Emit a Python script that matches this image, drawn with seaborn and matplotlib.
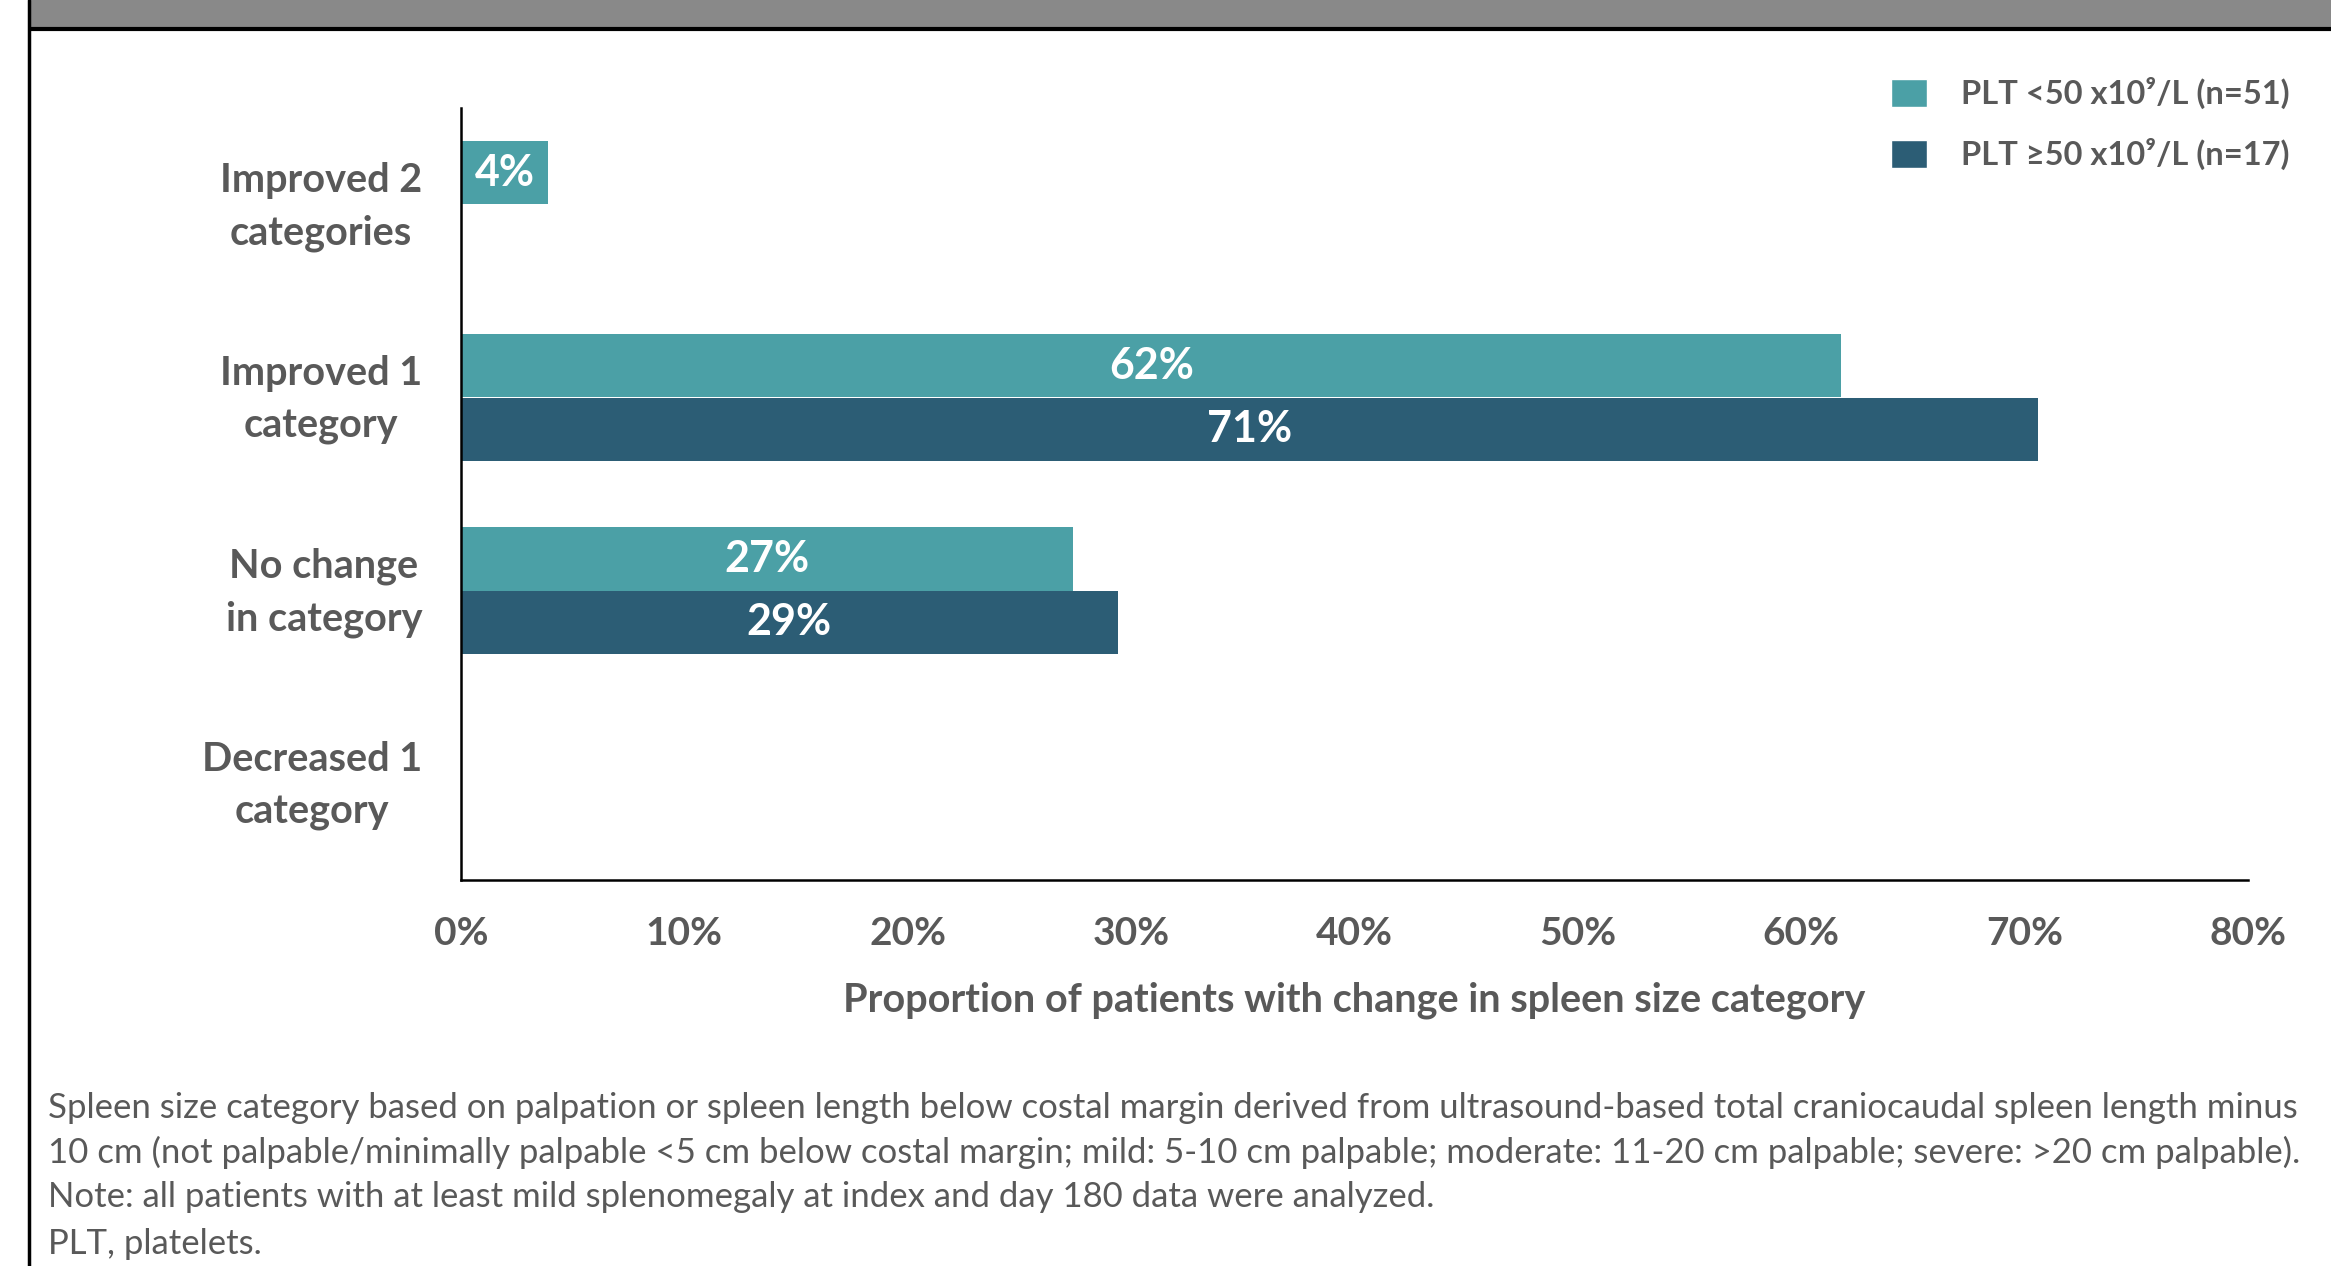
import matplotlib
matplotlib.use("Agg")
import matplotlib.pyplot as plt
import matplotlib.transforms as mtransforms
import seaborn as sns
import pandas as pd
from matplotlib.patches import Rectangle, Patch
from matplotlib.lines import Line2D

# ---------------- data ----------------
categories = ["Improved 2\ncategories", "Improved 1\ncategory",
              "No change\nin category", "Decreased 1\ncategory"]
groups = ["PLT <50 x10⁹/L (n=51)", "PLT ≥50 x10⁹/L (n=17)"]
plt_lt50 = [3.9, 61.8, 27.4, 0.0]
plt_ge50 = [0.0, 70.6, 29.4, 0.0]
x_ticks = [0, 10, 20, 30, 40, 50, 60, 70, 80]
x_label = "Proportion of patients with change in spleen size category"
note_lines = [
    "Spleen size category based on palpation or spleen length below costal margin derived from ultrasound-based total craniocaudal spleen length minus",
    "10 cm (not palpable/minimally palpable <5 cm below costal margin; mild: 5-10 cm palpable; moderate: 11-20 cm palpable; severe: >20 cm palpable).",
    "Note: all patients with at least mild splenomegaly at index and day 180 data were analyzed.",
]
abbrev = "PLT, platelets."

teal = "#4BA0A6"
dark = "#2C5D75"
gray_txt = "#595959"

df = pd.DataFrame({
    "Category": categories * 2,
    "Group": [groups[0]] * len(categories) + [groups[1]] * len(categories),
    "Value": plt_lt50 + plt_ge50,
})

sns.set_theme(style="white")
plt.rcParams["font.family"] = ["Lato", "DejaVu Sans"]

W, H = 2331, 1266
fig = plt.figure(figsize=(W / 100, H / 100), dpi=100)
fig.patch.set_facecolor("white")

# header band and left border
fig.patches.append(Rectangle((30 / W, 1 - 28 / H), 1, 28 / H, transform=fig.transFigure,
                             facecolor="#898989", edgecolor="none", zorder=0))
fig.add_artist(Line2D([30 / W, 1], [1 - 29 / H, 1 - 29 / H], transform=fig.transFigure,
                      color="black", lw=3))
fig.add_artist(Line2D([29 / W, 29 / W], [0, 1], transform=fig.transFigure,
                      color="black", lw=2.5))

ax = fig.add_axes([461 / W, 1 - 880 / H, (2248 - 461) / W, (880 - 108) / H])
sns.barplot(data=df, y="Category", x="Value", hue="Group", order=categories,
            hue_order=groups, palette=[teal, dark], width=0.66, saturation=1,
            orient="h", linewidth=0, legend=False, ax=ax)

for cont, vals in zip(ax.containers, [plt_lt50, plt_ge50]):
    labels = [f"{round(v)}%" if v > 0 else "" for v in vals]
    ax.bar_label(cont, labels=labels, label_type="center", color="white",
                 fontsize=31, fontweight="bold")

ax.set_xlim(0, 80)
ax.set_ylim(len(categories) - 0.5, -0.5)
ax.set_xticks(x_ticks)
ax.set_xticklabels([f"{t}%" for t in x_ticks])
ax.set_yticks(range(len(categories)))
ax.set_yticklabels(categories)
ax.tick_params(axis="x", length=0, pad=26, labelsize=28, labelcolor=gray_txt)
ax.tick_params(axis="y", length=0, pad=28, labelsize=28.5, labelcolor=gray_txt)
for lbl in ax.get_xticklabels() + ax.get_yticklabels():
    lbl.set_fontweight("bold")
shift = mtransforms.ScaledTranslation(0, 9 / 100, fig.dpi_scale_trans)
for lbl in ax.get_yticklabels():
    lbl.set_multialignment("center")
    lbl.set_linespacing(1.5)
    lbl.set_transform(lbl.get_transform() + shift)
ax.set_xlabel(x_label, fontsize=28.5, fontweight="bold", color=gray_txt, labelpad=22)
ax.set_ylabel("")
for s in ["top", "right"]:
    ax.spines[s].set_visible(False)
for s in ["left", "bottom"]:
    ax.spines[s].set_color("black")
    ax.spines[s].set_linewidth(1.8)
ax.set_facecolor("white")

fig.legend(handles=[Patch(facecolor=teal), Patch(facecolor=dark)], labels=groups,
           loc="upper left", bbox_to_anchor=(1891 / W, 1 - 77 / H), frameon=False,
           prop={"size": 23.5, "weight": "bold"}, labelcolor=gray_txt,
           handlelength=1.1, handleheight=0.95, handletextpad=1.05,
           labelspacing=0.88, borderpad=0, borderaxespad=0)

fig.text(48 / W, 1 - 1092 / H, "\n".join(note_lines), ha="left", va="top",
         fontsize=25, color=gray_txt, linespacing=1.45)
fig.text(48 / W, 1 - 1228 / H, abbrev, ha="left", va="top",
         fontsize=25, color=gray_txt)

fig.savefig("out.png", dpi=100, facecolor="white")
